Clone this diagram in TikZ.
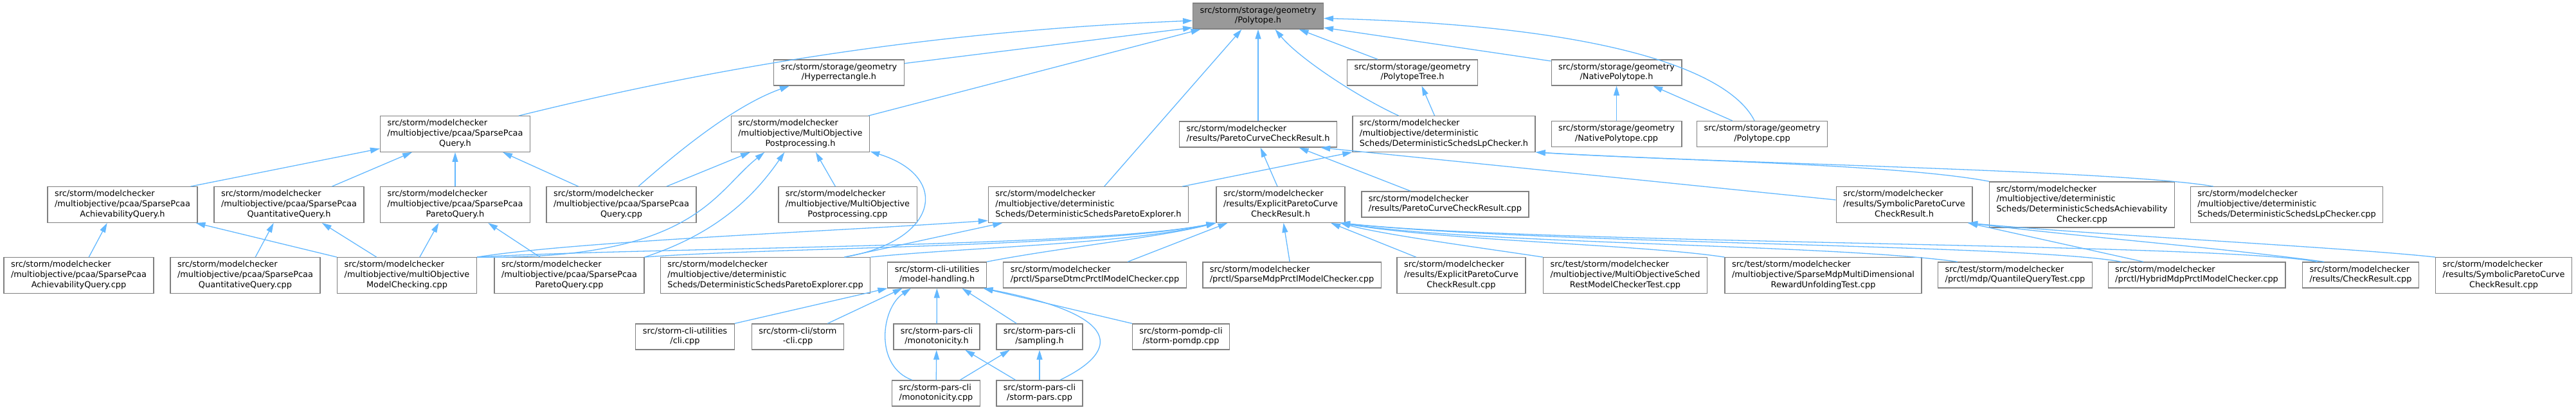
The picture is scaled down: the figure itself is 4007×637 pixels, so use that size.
\documentclass[tikz,border=0pt]{standalone}
\usepackage{fontspec}
\setmainfont{DejaVu Sans}
\usetikzlibrary{arrows.meta}
\definecolor{edgeblue}{HTML}{63B8FF}
\definecolor{boxline}{HTML}{808080}
\definecolor{rootfill}{HTML}{999999}
\newcommand{\lbl}[2]{\begin{tabular}{@{}l@{}}#1\\\multicolumn{1}{@{}c@{}}{#2}\end{tabular}}
\begin{document}
\begin{tikzpicture}[x=0.5pt,y=-0.5pt,
  file/.style={draw=boxline, line width=0.65pt, fill=white, inner xsep=5.5pt, inner ysep=2.1pt, minimum height=20pt, font=\fontsize{6.45}{7.85}\selectfont},
  dep/.style={draw=edgeblue, line width=0.65pt, -{Triangle[length=7.5pt,width=4.5pt]}}]
\useasboundingbox (0,0) rectangle (4007,637);

\node[file, fill=rootfill] (poly) at (1957,25) {\lbl{src/storm/storage/geometry}{/Polytope.h}};

\node[file] (hyper) at (1305,113) {\lbl{src/storm/storage/geometry}{/Hyperrectangle.h}};
\node[file] (ptree) at (2197,113) {\lbl{src/storm/storage/geometry}{/PolytopeTree.h}};
\node[file] (natH) at (2514.5,113) {\lbl{src/storm/storage/geometry}{/NativePolytope.h}};

\node[file] (pcaaQryH) at (708,208.5) {\lbl{src/storm/modelchecker\\/multiobjective/pcaa/SparsePcaa}{Query.h}};
\node[file] (postH) at (1245,208.5) {\lbl{src/storm/modelchecker\\/multiobjective/MultiObjective}{Postprocessing.h}};
\node[file] (pcrH) at (1957,209) {\lbl{src/storm/modelchecker}{/results/ParetoCurveCheckResult.h}};
\node[file] (lpH) at (2246,208.5) {\lbl{src/storm/modelchecker\\/multiobjective/deterministic}{Scheds/DeterministicSchedsLpChecker.h}};
\node[file] (natC) at (2514.5,208.5) {\lbl{src/storm/storage/geometry}{/NativePolytope.cpp}};
\node[file] (polyC) at (2741,208.5) {\lbl{src/storm/storage/geometry}{/Polytope.cpp}};

\node[file] (pcaaAchH) at (190.5,318.5) {\lbl{src/storm/modelchecker\\/multiobjective/pcaa/SparsePcaa}{AchievabilityQuery.h}};
\node[file] (pcaaQuantH) at (449.5,318.5) {\lbl{src/storm/modelchecker\\/multiobjective/pcaa/SparsePcaa}{QuantitativeQuery.h}};
\node[file] (pcaaParH) at (708,318.5) {\lbl{src/storm/modelchecker\\/multiobjective/pcaa/SparsePcaa}{ParetoQuery.h}};
\node[file] (pcaaQryC) at (966.5,318.5) {\lbl{src/storm/modelchecker\\/multiobjective/pcaa/SparsePcaa}{Query.cpp}};
\node[file] (postC) at (1318.5,318.5) {\lbl{src/storm/modelchecker\\/multiobjective/MultiObjective}{Postprocessing.cpp}};
\node[file] (explH) at (1693,318.5) {\lbl{src/storm/modelchecker\\/multiobjective/deterministic}{Scheds/DeterministicSchedsParetoExplorer.h}};
\node[file] (epcrH) at (1992,318.5) {\lbl{src/storm/modelchecker\\/results/ExplicitParetoCurve}{CheckResult.h}};
\node[file] (pcrC) at (2248,318) {\lbl{src/storm/modelchecker}{/results/ParetoCurveCheckResult.cpp}};
\node[file] (spcrH) at (2962,318.5) {\lbl{src/storm/modelchecker\\/results/SymbolicParetoCurve}{CheckResult.h}};
\node[file] (achvC) at (3238.5,318.5) {\lbl{src/storm/modelchecker\\/multiobjective/deterministic\\Scheds/DeterministicSchedsAchievability}{Checker.cpp}};
\node[file] (lpC) at (3557,318.5) {\lbl{src/storm/modelchecker\\/multiobjective/deterministic}{Scheds/DeterministicSchedsLpChecker.cpp}};

\node[file] (pcaaAchC) at (122.5,428.5) {\lbl{src/storm/modelchecker\\/multiobjective/pcaa/SparsePcaa}{AchievabilityQuery.cpp}};
\node[file] (pcaaQuantC) at (381.5,428.5) {\lbl{src/storm/modelchecker\\/multiobjective/pcaa/SparsePcaa}{QuantitativeQuery.cpp}};
\node[file] (moCheck) at (633,428.5) {\lbl{src/storm/modelchecker\\/multiobjective/multiObjective}{ModelChecking.cpp}};
\node[file] (pcaaParC) at (885.5,428.5) {\lbl{src/storm/modelchecker\\/multiobjective/pcaa/SparsePcaa}{ParetoQuery.cpp}};
\node[file] (explC) at (1190.5,428.5) {\lbl{src/storm/modelchecker\\/multiobjective/deterministic}{Scheds/DeterministicSchedsParetoExplorer.cpp}};
\node[file] (mhand) at (1457.5,428) {\lbl{src/storm-cli-utilities}{/model-handling.h}};
\node[file] (dtmc) at (1703,428) {\lbl{src/storm/modelchecker}{/prctl/SparseDtmcPrctlModelChecker.cpp}};
\node[file] (mdp) at (2009.5,428) {\lbl{src/storm/modelchecker}{/prctl/SparseMdpPrctlModelChecker.cpp}};
\node[file] (epcrC) at (2273,428.5) {\lbl{src/storm/modelchecker\\/results/ExplicitParetoCurve}{CheckResult.cpp}};
\node[file] (restTest) at (2528,428.5) {\lbl{src/test/storm/modelchecker\\/multiobjective/MultiObjectiveSched}{RestModelCheckerTest.cpp}};
\node[file] (unfTest) at (2836,428.5) {\lbl{src/test/storm/modelchecker\\/multiobjective/SparseMdpMultiDimensional}{RewardUnfoldingTest.cpp}};
\node[file] (quantTest) at (3134.5,428) {\lbl{src/test/storm/modelchecker}{/prctl/mdp/QuantileQueryTest.cpp}};
\node[file] (hybrid) at (3417,428) {\lbl{src/storm/modelchecker}{/prctl/HybridMdpPrctlModelChecker.cpp}};
\node[file] (crC) at (3672,428) {\lbl{src/storm/modelchecker}{/results/CheckResult.cpp}};
\node[file] (spcrC) at (3894.5,428.5) {\lbl{src/storm/modelchecker\\/results/SymbolicParetoCurve}{CheckResult.cpp}};

\node[file] (cli) at (1065.5,524) {\lbl{src/storm-cli-utilities}{/cli.cpp}};
\node[file] (scli) at (1241,524) {\lbl{src/storm-cli/storm}{-cli.cpp}};
\node[file] (monoH) at (1457,524) {\lbl{src/storm-pars-cli}{/monotonicity.h}};
\node[file] (sampH) at (1617,524) {\lbl{src/storm-pars-cli}{/sampling.h}};
\node[file] (pomdp) at (1837,524) {\lbl{src/storm-pomdp-cli}{/storm-pomdp.cpp}};

\node[file] (monoC) at (1456,612) {\lbl{src/storm-pars-cli}{/monotonicity.cpp}};
\node[file] (parsC) at (1617,612) {\lbl{src/storm-pars-cli}{/storm-pars.cpp}};

\draw[dep] (pcaaQryH.16) .. controls (1050,120) and (1400,50) .. (poly.184);
\draw[dep] (hyper.8) -- (poly.190);
\draw[dep] (postH.15) -- (poly.193);
\draw[dep] (explH.49) -- (poly.219);
\draw[dep] (pcrH) -- (poly);
\draw[dep] (lpH.158) .. controls (2110,150) and (2020,90) .. (poly.322);
\draw[dep] (ptree.159) -- (poly.342);
\draw[dep] (natH.170) -- (poly.350);
\draw[dep] (polyC.120) .. controls (2690,110) and (2500,40) .. (poly.358);

\draw[dep] (pcaaQryC.47) .. controls (1050,240) and (1140,165) .. (hyper.195);
\draw[dep] (lpH.117) -- (ptree.305);
\draw[dep] (natC) -- (natH);
\draw[dep] (polyC.156) -- (natH.340);

\draw[dep] (pcaaAchH.15) -- (pcaaQryH.191);
\draw[dep] (pcaaQuantH.23) -- (pcaaQryH.203);
\draw[dep] (pcaaParH) -- (pcaaQryH);
\draw[dep] (pcaaQryC.157) -- (pcaaQryH.339);

\draw[dep] (pcaaQryC.22) -- (postH.200);
\draw[dep] (moCheck.north east) .. controls (1080,405) and (1110,300) .. (postH.207);
\draw[dep] (pcaaParC.north east) .. controls (1110,365) and (1170,310) .. (postH.229);
\draw[dep] (postC.124) -- (postH.310);
\draw[dep] (explC.13) .. controls (1460,375) and (1480,275) .. (postH.346);

\draw[dep] (pcaaAchC.61) -- (pcaaAchH.230);
\draw[dep] (moCheck.north west) -- (pcaaAchH.346);
\draw[dep] (pcaaQuantC.61) -- (pcaaQuantH.230);
\draw[dep] (moCheck.149) -- (pcaaQuantH.331);
\draw[dep] (moCheck.55) -- (pcaaParH.228);
\draw[dep] (pcaaParC.148) -- (pcaaParH.331);

\draw[dep] (moCheck.north east) .. controls (900,375) and (1300,360) .. (explH.189);
\draw[dep] (explC.13) -- (explH.192);

\draw[dep] (moCheck.north east) .. controls (1000,385) and (1700,385) .. (epcrH.south west);
\draw[dep] (pcaaParC.north east) .. controls (1200,385) and (1700,385) .. (epcrH.south west);
\draw[dep] (explC.north east) .. controls (1500,385) and (1750,380) .. (epcrH.south west);
\draw[dep] (mhand.north east) .. controls (1650,385) and (1800,370) .. (epcrH.south west);
\draw[dep] (dtmc.22) -- (epcrH.199);
\draw[dep] (mdp) -- (epcrH);
\draw[dep] (epcrC.158) -- (epcrH.340);
\draw[dep] (restTest.north west) .. controls (2300,385) and (2150,365) .. (epcrH.343);
\draw[dep] (unfTest.north west) .. controls (2550,380) and (2250,375) .. (epcrH.343);
\draw[dep] (quantTest.167) .. controls (2850,380) and (2300,380) .. (epcrH.343);
\draw[dep] (hybrid.170) .. controls (3150,380) and (2400,380) .. (epcrH.343);
\draw[dep] (crC.163) .. controls (3450,378) and (2400,380) .. (epcrH.343);

\draw[dep] (hybrid.166) -- (spcrH.344);
\draw[dep] (crC.160) .. controls (3450,385) and (3250,370) .. (spcrH.344);
\draw[dep] (spcrC.north west) .. controls (3650,385) and (3250,365) .. (spcrH.344);

\draw[dep] (epcrH.100) -- (pcrH.280);
\draw[dep] (pcrC.159) -- (pcrH.342);
\draw[dep] (spcrH.176) -- (pcrH.348);

\draw[dep] (explH.11) -- (lpH.south west);
\draw[dep] (achvC.north west) .. controls (2950,255) and (2600,250) .. (lpH.south east);
\draw[dep] (lpC.166) .. controls (3300,265) and (2700,255) .. (lpH.south east);

\draw[dep] (cli.north east) -- (mhand.195);
\draw[dep] (scli.24) -- (mhand.201);
\draw[dep] (monoC.151) .. controls (1360,570) and (1370,480) .. (mhand.207);
\draw[dep] (monoH) -- (mhand);
\draw[dep] (sampH.150) -- (mhand.332);
\draw[dep] (parsC.33) .. controls (1745,545) and (1745,490) .. (mhand.344);
\draw[dep] (pomdp.north west) -- (mhand.344);

\draw[dep] (monoC) -- (monoH);
\draw[dep] (parsC.151) -- (monoH.335);
\draw[dep] (monoC.29) -- (sampH.204);
\draw[dep] (parsC) -- (sampH);
\end{tikzpicture}
\end{document}
